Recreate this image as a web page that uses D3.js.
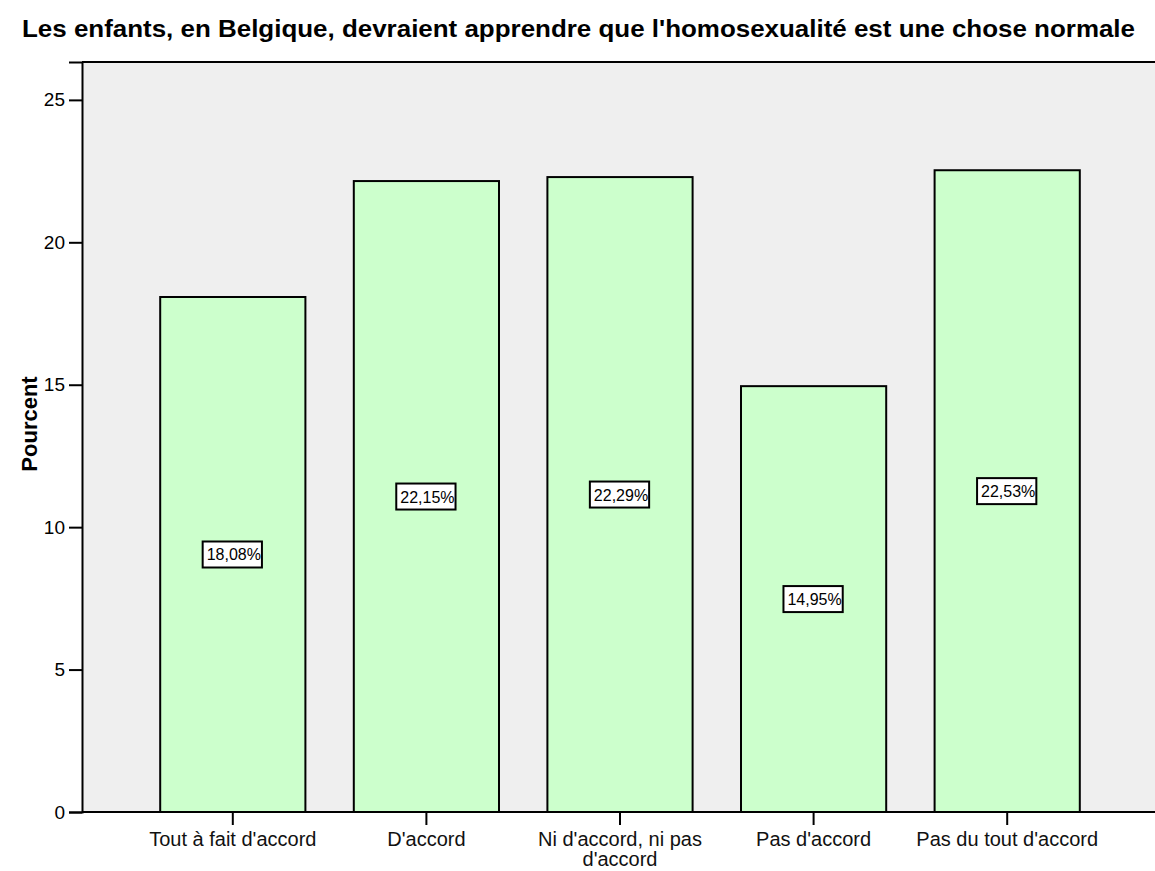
<!DOCTYPE html>
<html>
<head>
<meta charset="utf-8">
<script src="https://cdn.jsdelivr.net/npm/d3@7"></script>
<style>
html,body{margin:0;padding:0;background:#fff;}
svg{display:block;font-family:"Liberation Sans",Arial,sans-serif;}
</style>
</head>
<body>
<svg id="chart" width="1155" height="871"></svg>
<script>
const title = "Les enfants, en Belgique, devraient apprendre que l'homosexualité est une chose normale";
const categories = ["Tout à fait d'accord", "D'accord", "Ni d'accord, ni pas d'accord", "Pas d'accord", "Pas du tout d'accord"];
const categoryLines = [["Tout à fait d'accord"], ["D'accord"], ["Ni d'accord, ni pas", "d'accord"], ["Pas d'accord"], ["Pas du tout d'accord"]];
const percentValues = [18.08, 22.15, 22.29, 14.95, 22.53];
const valueLabels = ["18,08%", "22,15%", "22,29%", "14,95%", "22,53%"];
const yTicks = [0, 5, 10, 15, 20, 25];
const yAxisTitle = "Pourcent";

const svg = d3.select("#chart");
const plot = {left: 82, top: 62, right: 1155, bottom: 812};

const x = d3.scaleBand().domain(categories).range([136, 1104]).paddingInner(0.25).paddingOuter(0.125);
const y = d3.scaleLinear().domain([0, 26.33]).range([plot.bottom, plot.top]);

// plot background
svg.append("rect").attr("x", plot.left).attr("y", plot.top)
  .attr("width", plot.right - plot.left).attr("height", plot.bottom - plot.top)
  .attr("fill", "#efefef");

// bars
svg.selectAll("rect.bar").data(percentValues).enter().append("rect")
  .attr("class", "bar")
  .attr("x", (d, i) => x(categories[i]))
  .attr("y", d => y(d))
  .attr("width", x.bandwidth())
  .attr("height", d => y(0) - y(d))
  .attr("fill", "#ccffcc").attr("stroke", "#000").attr("stroke-width", 2);

// frame line (top)
svg.append("line").attr("x1", plot.left).attr("x2", plot.right).attr("y1", plot.top).attr("y2", plot.top)
  .attr("stroke", "#000").attr("stroke-width", 2);

// y axis
const yAxis = d3.axisLeft(y).tickValues(yTicks).tickSize(13).tickPadding(4).tickFormat(d3.format("d"));
const gy = svg.append("g").attr("transform", `translate(${plot.left},0)`).call(yAxis);
gy.select(".domain").attr("stroke", "#000").attr("stroke-width", 2);
gy.selectAll(".tick line").attr("stroke", "#000").attr("stroke-width", 2);
gy.selectAll(".tick text").attr("font-size", 19).attr("fill", "#000").attr("font-family", "Liberation Sans, Arial, sans-serif");

// x axis
const xAxis = d3.axisBottom(x).tickSize(13).tickFormat("");
const gx = svg.append("g").attr("transform", `translate(0,${plot.bottom})`).call(xAxis);
gx.select(".domain").remove();
svg.append("line").attr("x1", plot.left).attr("x2", plot.right).attr("y1", plot.bottom).attr("y2", plot.bottom)
  .attr("stroke", "#000").attr("stroke-width", 2);
gx.selectAll(".tick line").attr("stroke", "#000").attr("stroke-width", 2);
gx.selectAll(".tick").each(function(d, i) {
  const t = d3.select(this).append("text")
    .attr("text-anchor", "middle").attr("font-size", 20).attr("fill", "#111")
    .attr("font-family", "Liberation Sans, Arial, sans-serif");
  categoryLines[i].forEach((line, j) => {
    t.append("tspan").attr("x", 0).attr("y", 34 + j * 20).text(line);
  });
});

// value labels
percentValues.forEach((v, i) => {
  const cx = x(categories[i]) + x.bandwidth() / 2;
  const cy = y(v / 2);
  const g = svg.append("g");
  const txt = g.append("text").attr("x", cx + 1).attr("y", cy + 6)
    .attr("text-anchor", "middle").attr("font-size", 16).attr("fill", "#000")
    .text(valueLabels[i]);
  const w = txt.node().getComputedTextLength();
  g.insert("rect", "text").attr("x", cx - w / 2 - 3).attr("y", cy - 13)
    .attr("width", w + 5).attr("height", 26)
    .attr("fill", "#fff").attr("stroke", "#000").attr("stroke-width", 2);
});

// y axis title
svg.append("text").attr("transform", `translate(37,424) rotate(-90)`)
  .attr("text-anchor", "middle").attr("font-size", 22).attr("font-weight", "bold").attr("fill", "#000")
  .text(yAxisTitle);

// chart title
svg.append("text").attr("x", 22).attr("y", 37)
  .attr("font-size", 23).attr("font-weight", "bold").attr("fill", "#000")
  .attr("textLength", 1113).attr("lengthAdjust", "spacingAndGlyphs")
  .text(title);
</script>
</body>
</html>
